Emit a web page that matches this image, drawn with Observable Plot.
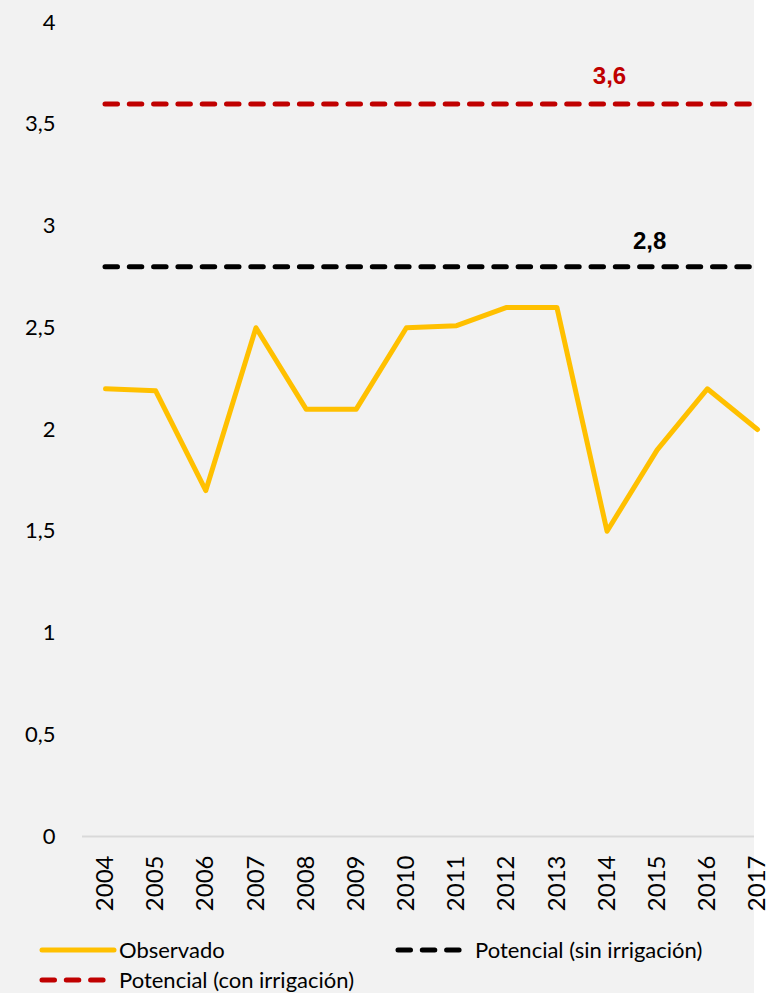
<!DOCTYPE html>
<html>
<head>
<meta charset="utf-8">
<script src="https://cdn.jsdelivr.net/npm/d3@7"></script>
<script src="https://cdn.jsdelivr.net/npm/@observablehq/plot@0.6"></script>
<style>
  html, body { margin: 0; padding: 0; background: #ffffff; overflow: hidden; width: 768px; height: 993px; }
  #wrap { width: 754px; height: 993px; background: #f2f2f2; position: relative; }
  #chart { position: absolute; left: 0; top: 0; width: 768px; }
  #chart svg { overflow: visible; display: block; }
  .legend { position: absolute; left: 0; top: 0; font-family: Lato, "Noto Sans", sans-serif; font-size: 22px; color: #000; }
  .item { position: absolute; display: flex; align-items: center; white-space: nowrap; }
  .item svg { margin-right: 2px; }
</style>
</head>
<body>
<div id="wrap">
  <div id="chart"></div>
  <div class="legend" id="legend"></div>
</div>
<script>
const years = [2004, 2005, 2006, 2007, 2008, 2009, 2010, 2011, 2012, 2013, 2014, 2015, 2016, 2017];
const observado = [2.20, 2.19, 1.70, 2.50, 2.10, 2.10, 2.50, 2.51, 2.60, 2.60, 1.50, 1.90, 2.20, 2.00];
const potencialSin = 2.8;
const potencialCon = 3.6;
const yTicks = [0, 0.5, 1, 1.5, 2, 2.5, 3, 3.5, 4];
const seriesNames = ["Observado", "Potencial (sin irrigación)", "Potencial (con irrigación)"];
const colors = { obs: "#FFC000", sin: "#000000", con: "#C00000" };
const labelYears = { con: 2014.05, sin: 2014.85 };

const data = years.map((y, i) => ({ year: y, value: observado[i] }));
const fmt = v => String(v).replace(".", ",");
const dash = "12.5,11.8";

const plot = Plot.plot({
  width: 768,
  height: 925,
  marginLeft: 105,
  marginRight: 11,
  marginTop: 22,
  marginBottom: 89,
  style: { background: "transparent", fontFamily: "Lato, 'Noto Sans', sans-serif", color: "#000" },
  x: { type: "linear", domain: [2004, 2017] },
  y: { domain: [0, 4] },
  marks: [
    Plot.axisY({ ticks: yTicks, tickFormat: fmt, tickSize: 0, tickPadding: 50, label: null, fontSize: 22 }),
    Plot.axisX({ ticks: years, tickFormat: d => String(d), tickSize: 0, tickPadding: 19, tickRotate: -90, label: null, fontSize: 24 }),
    Plot.ruleY([0], { stroke: "#d9d9d9", strokeWidth: 2, insetLeft: -23, insetRight: 3 }),
    Plot.ruleY([potencialCon], { stroke: colors.con, strokeWidth: 5, strokeDasharray: dash, strokeLinecap: "round", insetRight: 3 }),
    Plot.ruleY([potencialSin], { stroke: colors.sin, strokeWidth: 5, strokeDasharray: dash, strokeLinecap: "round", insetRight: 3 }),
    Plot.line(data, { x: "year", y: "value", stroke: colors.obs, strokeWidth: 5, strokeLinecap: "round", strokeLinejoin: "round" }),
    Plot.text([{ year: labelYears.con, value: potencialCon }], { x: "year", y: "value", text: d => fmt(d.value), dy: -28, fill: colors.con, fontSize: 24, fontWeight: "bold", fontFamily: "'Liberation Sans', Arial, sans-serif" }),
    Plot.text([{ year: labelYears.sin, value: potencialSin }], { x: "year", y: "value", text: d => fmt(d.value), dy: -25, fill: colors.sin, fontSize: 24, fontWeight: "bold", fontFamily: "'Liberation Sans', Arial, sans-serif" })
  ]
});
document.getElementById("chart").appendChild(plot);

function swatch(color, dashed) {
  const ns = "http://www.w3.org/2000/svg";
  const s = document.createElementNS(ns, "svg");
  s.setAttribute("width", 78); s.setAttribute("height", 10);
  const l = document.createElementNS(ns, "line");
  l.setAttribute("x1", 3); l.setAttribute("x2", 75); l.setAttribute("y1", 5); l.setAttribute("y2", 5);
  l.setAttribute("stroke", color); l.setAttribute("stroke-width", 5); l.setAttribute("stroke-linecap", "round");
  if (dashed) l.setAttribute("stroke-dasharray", dash);
  s.appendChild(l);
  return s;
}
const legendItems = [
  { name: seriesNames[0], color: colors.obs, dashed: false, left: 39, top: 936 },
  { name: seriesNames[1], color: colors.sin, dashed: true, left: 395, top: 936 },
  { name: seriesNames[2], color: colors.con, dashed: true, left: 39, top: 966 }
];
const leg = document.getElementById("legend");
legendItems.forEach(it => {
  const d = document.createElement("div");
  d.className = "item";
  d.style.left = it.left + "px";
  d.style.top = it.top + "px";
  d.appendChild(swatch(it.color, it.dashed));
  const t = document.createElement("span");
  t.textContent = it.name;
  d.appendChild(t);
  leg.appendChild(d);
});
</script>
</body>
</html>
